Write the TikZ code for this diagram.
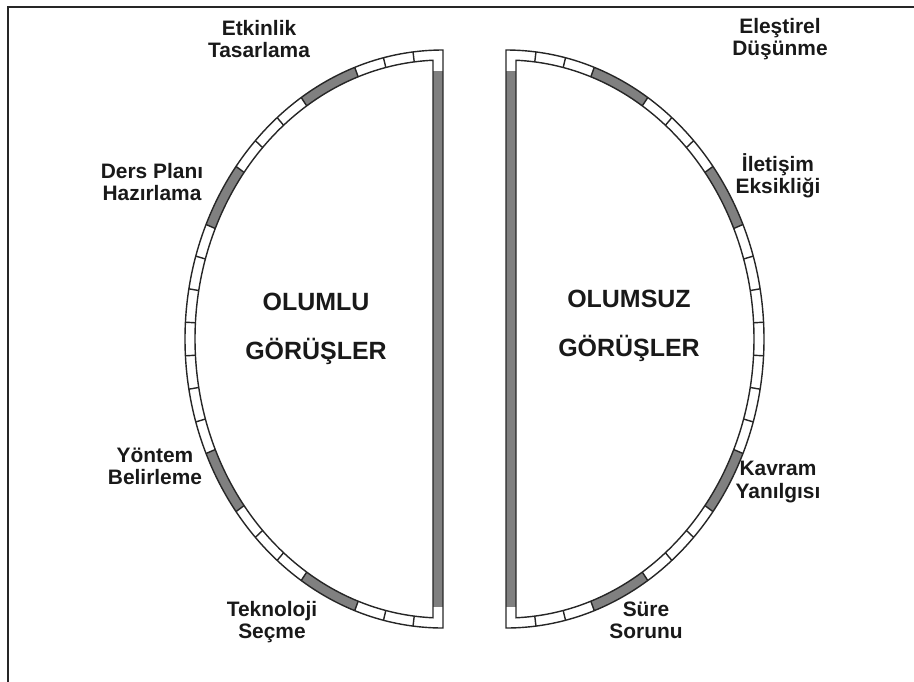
\documentclass[tikz,border=0pt]{standalone}
\usepackage{fontspec}
\setmainfont{Liberation Sans}
\usetikzlibrary{calc}

\begin{document}
\begin{tikzpicture}[
  x=0.02cm, y=-0.02cm,
  outline/.style={draw=black!85, line width=0.8pt},
  cellfill/.style={fill=black!50},
  frame/.style={draw=black!85, line width=1.2pt},
  lbl/.style={font=\fontsize{11.9}{12.6}\selectfont\bfseries, align=center, text=black!90},
  heading/.style={font=\fontsize{14.2}{28}\selectfont\bfseries, align=center, text=black!90}
]
\useasboundingbox (0,0) rectangle (914,681);
\pgfmathsetmacro{\cw}{180/27}

% ---- FRAME ----
\draw[frame] (8,690) -- (8,7) -- (920,7);

% ---- HALF DISKS ----
\foreach \cx/\sx in {443/1,506/-1} {
  \begin{scope}[shift={(\cx,339)}, xscale=\sx]
    % gray blocks on the rim (two cells each)
    \foreach \k in {3,8,17,22} {
      \fill[cellfill] ({270-\k*\cw}:258 and 289)
        arc[start angle={270-\k*\cw}, delta angle={-2*\cw}, x radius=258, y radius=289]
        -- ({270-(\k+2)*\cw}:248 and 279)
        arc[start angle={270-(\k+2)*\cw}, delta angle={2*\cw}, x radius=248, y radius=279] -- cycle;
    }
    % straight side bar
    \fill[cellfill] (-10,-268) rectangle (0,268);
    % outlines
    \draw[outline] (0,-289) arc[start angle=270, end angle=90, x radius=258, y radius=289] -- cycle;
    \draw[outline] (267.69:248 and 279) arc[start angle=267.69, end angle=92.31, x radius=248, y radius=279] -- cycle;
    \foreach \k in {1,2,3,5,6,7,8,10,11,12,13,14,15,16,17,19,20,21,22,24,25,26}
      \draw[outline] ({270-\k*\cw}:258 and 289) -- ({270-\k*\cw}:248 and 279);
  \end{scope}
}

% ---- LEFT LABELS ----
\node[heading] (olumlu) at (316,329) {OLUMLU\\GÖRÜŞLER};
\node[lbl] (etkinlik) at (259,39) {Etkinlik\\Tasarlama};
\node[lbl] (dersplani) at (152,182) {Ders Planı\\Hazırlama};
\node[lbl] (yontem) at (155,466) {Yöntem\\Belirleme};
\node[lbl] (teknoloji) at (272,622) {Teknoloji\\Seçme};

% ---- RIGHT LABELS ----
\node[heading] (olumsuz) at (629,326) {OLUMSUZ\\GÖRÜŞLER};
\node[lbl] (elestirel) at (780,39) {Eleştirel\\Düşünme};
\node[lbl] (iletisim) at (778,176) {İletişim\\Eksikliği};
\node[lbl] (kavram) at (778,482) {Kavram\\Yanılgısı};
\node[lbl] (sure) at (646,620) {Süre\\Sorunu};
\end{tikzpicture}
\end{document}
